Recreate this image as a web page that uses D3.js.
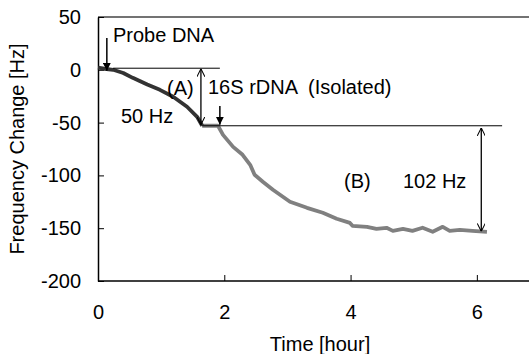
<!DOCTYPE html>
<html>
<head>
<meta charset="utf-8">
<script src="https://cdn.jsdelivr.net/npm/d3@7"></script>
<style>
  body { margin: 0; background: #fff; }
  svg { display: block; font-family: "Liberation Sans", Arial, sans-serif; }
</style>
</head>
<body>
<script>
const width = 529, height = 354;

// probe DNA immobilisation (A)
const probeTime = [0, 0.1, 0.24, 0.4, 0.55, 0.78, 0.98, 1.19, 1.41, 1.57, 1.65];
const probeFreq = [2, 1, 0, -3, -7.6, -14, -19, -25.5, -35, -44.5, -53];

// 16S rDNA hybridisation (B)
const targetTime = [1.65, 1.9, 1.98, 2.14, 2.29, 2.41, 2.48, 2.61, 2.77, 3.04, 3.31, 3.56, 3.78, 3.99, 4.03, 4.26, 4.41, 4.57, 4.67, 4.83, 4.98, 5.14, 5.3, 5.46, 5.57, 5.73, 5.93, 6.16];
const targetFreq = [-53, -53, -61.6, -73, -80.5, -90, -99.4, -106, -113.6, -125, -130.7, -135.4, -141, -145, -147.7, -148.7, -150.6, -149.6, -152.5, -150.6, -152.5, -149.6, -153.4, -148.7, -152.5, -151.5, -152.5, -153.4];

const xTicks = [0, 2, 4, 6];
const yTicks = [50, 0, -50, -100, -150, -200];

const margin = {left: 98, top: 17, right: -11, bottom: 73};
const fontSize = 20;

const x = d3.scaleLinear().domain([0, 7]).range([margin.left, width - margin.right]);
const y = d3.scaleLinear().domain([-200, 50]).range([height - margin.bottom, margin.top]);

const svg = d3.select("body").append("svg")
    .attr("width", width)
    .attr("height", height);

const defs = svg.append("defs");
defs.append("marker").attr("id", "solid")
    .attr("viewBox", "0 0 10 10").attr("refX", 10).attr("refY", 5)
    .attr("markerWidth", 8).attr("markerHeight", 8).attr("markerUnits", "userSpaceOnUse")
    .attr("orient", "auto")
    .append("path").attr("d", "M0,0L10,5L0,10Z").attr("fill", "#000");
defs.append("marker").attr("id", "open")
    .attr("viewBox", "0 0 10 10").attr("refX", 10).attr("refY", 5)
    .attr("markerWidth", 8).attr("markerHeight", 8).attr("markerUnits", "userSpaceOnUse")
    .attr("orient", "auto-start-reverse")
    .append("path").attr("d", "M0,0L10,5L0,10").attr("fill", "none").attr("stroke", "#000").attr("stroke-width", 1.3);

// top frame
svg.append("line")
    .attr("x1", x(0)).attr("x2", width)
    .attr("y1", y(50)).attr("y2", y(50))
    .attr("stroke", "#444").attr("stroke-width", 1.5);

// axes
const fmt = d => String(d);
const xAxis = svg.append("g")
    .attr("transform", `translate(0,${y(-200)})`)
    .call(d3.axisBottom(x).tickValues(xTicks).tickFormat(fmt).tickSizeInner(-6).tickSizeOuter(0).tickPadding(24));
const yAxis = svg.append("g")
    .attr("transform", `translate(${x(0)},0)`)
    .call(d3.axisLeft(y).tickValues(yTicks).tickFormat(fmt).tickSizeInner(-6).tickSizeOuter(0).tickPadding(17));
[xAxis, yAxis].forEach(g => {
    g.select(".domain").attr("stroke", "#000").attr("stroke-width", 1.5);
    g.selectAll(".tick line").attr("stroke", "#000");
    g.selectAll("text").attr("font-size", fontSize).attr("fill", "#000").attr("font-family", null);
});
xAxis.select(".domain").attr("d", `M${x(0)},0H${width}`);

svg.append("text")
    .attr("x", 320).attr("y", 351)
    .attr("text-anchor", "middle").attr("font-size", fontSize)
    .text("Time [hour]");
svg.append("text")
    .attr("transform", `translate(24,${(y(50) + y(-200)) / 2}) rotate(-90)`)
    .attr("text-anchor", "middle").attr("font-size", fontSize)
    .text("Frequency Change [Hz]");

// curves
const line = d3.line().x(d => x(d[0])).y(d => y(d[1])).curve(d3.curveLinear);
svg.append("path")
    .datum(targetTime.map((t, i) => [t, targetFreq[i]]))
    .attr("d", line).attr("fill", "none")
    .attr("stroke", "#808080").attr("stroke-width", 3.8).attr("stroke-linejoin", "round");
svg.append("path")
    .datum(probeTime.map((t, i) => [t, probeFreq[i]]))
    .attr("d", line).attr("fill", "none")
    .attr("stroke", "#333").attr("stroke-width", 3.8).attr("stroke-linejoin", "round");

// reference lines
svg.append("line")
    .attr("x1", x(0.24)).attr("x2", x(1.93)).attr("y1", y(1.5)).attr("y2", y(1.5))
    .attr("stroke", "#000").attr("stroke-width", 1);
svg.append("line")
    .attr("x1", x(1.65)).attr("x2", x(6.4)).attr("y1", y(-53)).attr("y2", y(-53))
    .attr("stroke", "#000").attr("stroke-width", 1);

// injection arrows
svg.append("line")
    .attr("x1", x(0.14)).attr("x2", x(0.14)).attr("y1", 38).attr("y2", y(-1))
    .attr("stroke", "#000").attr("stroke-width", 1.5).attr("marker-end", "url(#solid)");
svg.append("line")
    .attr("x1", x(1.93)).attr("x2", x(1.93)).attr("y1", 106).attr("y2", y(-52))
    .attr("stroke", "#000").attr("stroke-width", 1.5).attr("marker-end", "url(#solid)");

// difference arrows
svg.append("line")
    .attr("x1", x(1.63)).attr("x2", x(1.63)).attr("y1", y(1)).attr("y2", y(-52))
    .attr("stroke", "#000").attr("stroke-width", 1.3)
    .attr("marker-start", "url(#open)").attr("marker-end", "url(#open)");
svg.append("line")
    .attr("x1", x(6.07)).attr("x2", x(6.07)).attr("y1", y(-55)).attr("y2", y(-153))
    .attr("stroke", "#000").attr("stroke-width", 1.3)
    .attr("marker-start", "url(#open)").attr("marker-end", "url(#open)");

// labels
const labels = [
    {text: "Probe DNA", x: 113, y: 42},
    {text: "(A)", x: 167, y: 95},
    {text: "16S rDNA  (Isolated)", x: 208, y: 94},
    {text: "50 Hz", x: 121, y: 123},
    {text: "(B)", x: 344, y: 188},
    {text: "102 Hz", x: 403, y: 188}
];
svg.selectAll("text.label").data(labels).join("text")
    .attr("class", "label")
    .attr("x", d => d.x).attr("y", d => d.y)
    .attr("font-size", fontSize)
    .style("white-space", "pre")
    .text(d => d.text);
</script>
</body>
</html>
